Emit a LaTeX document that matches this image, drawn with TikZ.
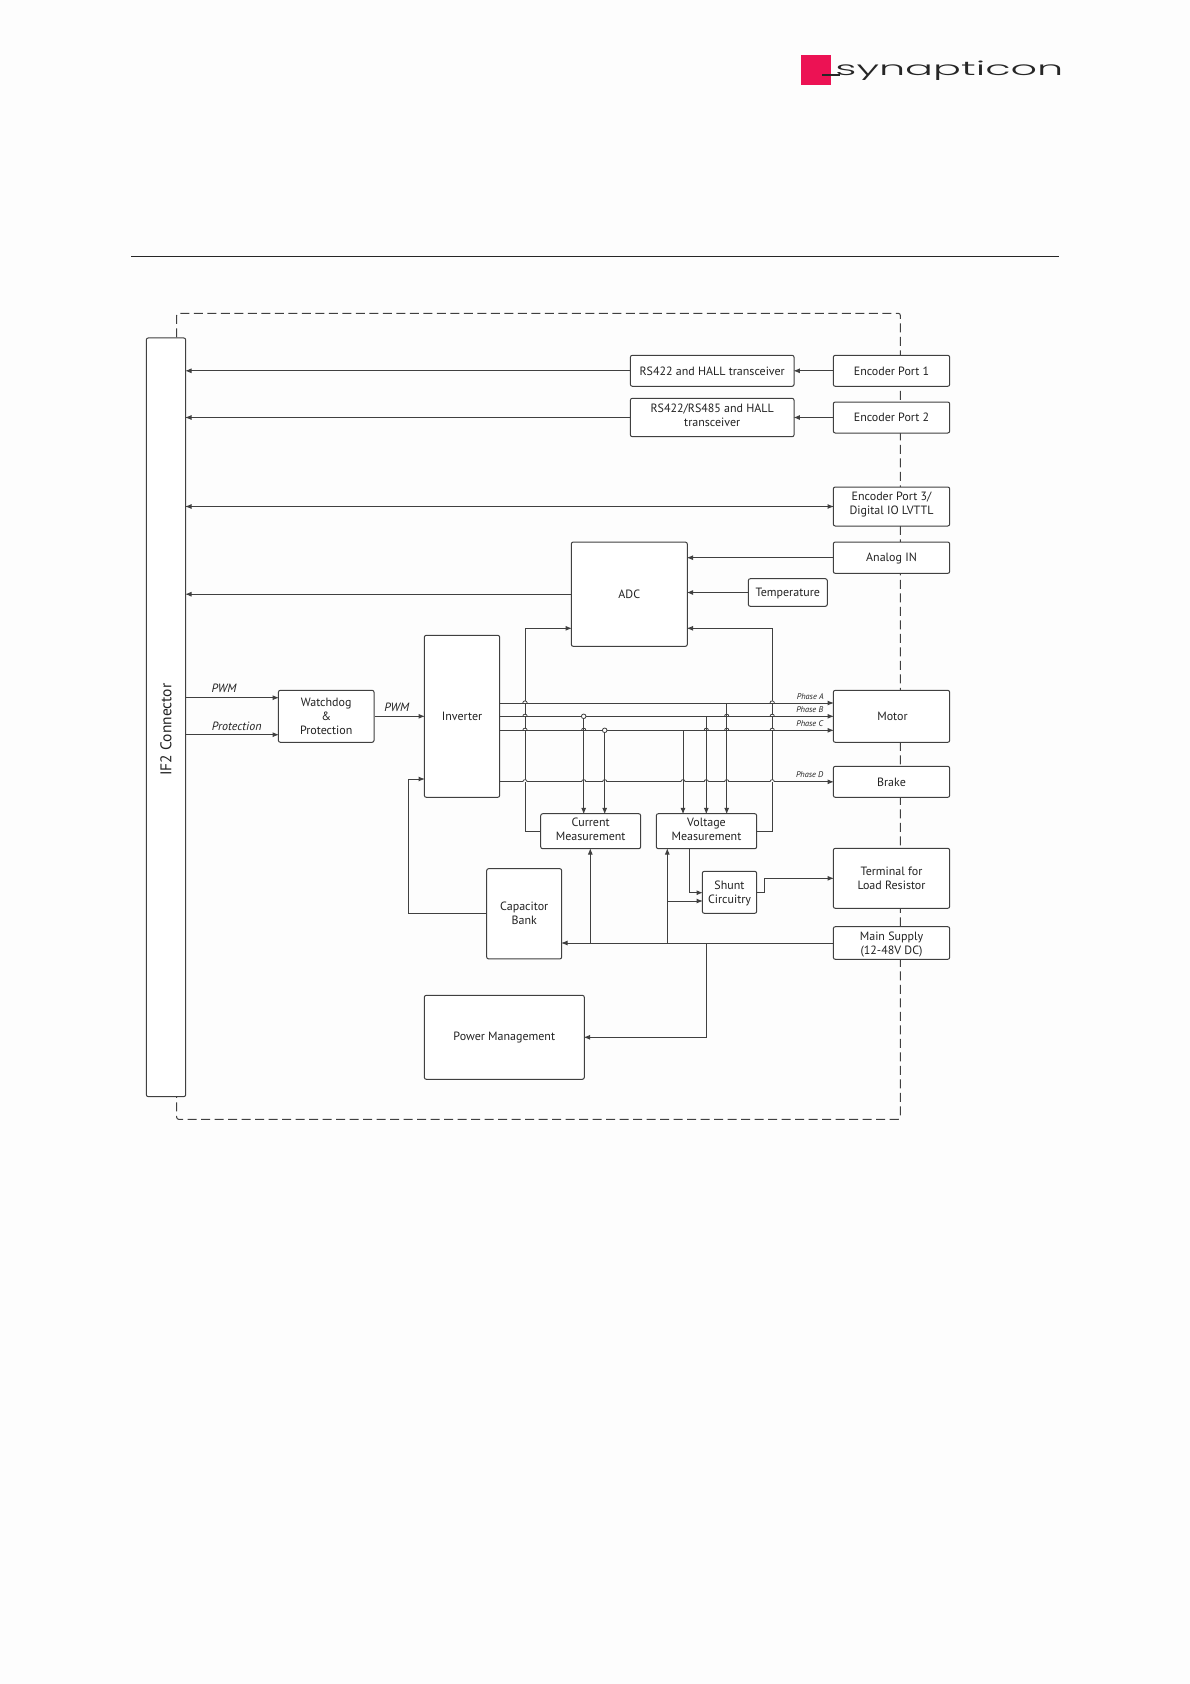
\documentclass[tikz,border=0pt]{standalone}
\usepackage{fontspec}
\setmainfont{PT Sans}
\newfontfamily\logofont{Poppins Light}
\usetikzlibrary{arrows.meta,backgrounds}
\definecolor{ln}{HTML}{404040}
\definecolor{txt}{HTML}{222222}
\definecolor{pink}{HTML}{EC1254}
\definecolor{paper}{HTML}{FDFDFD}
\tikzset{
  x=1pt,y=-1pt,
  blk/.style={draw=ln,line width=1pt,fill=white,rounded corners=2pt,inner sep=0pt,
    text=txt,align=center,font=\fontsize{12}{14}\selectfont},
  one/.style={text height=11pt,text depth=2.5pt},
  wire/.style={draw=ln,line width=1pt},
  arr/.style={wire,-{Latex[length=6.5pt,width=5pt]},shorten >=-1.2pt},
  lab/.style={inner sep=0pt,text=txt,font=\fontsize{12}{14}\selectfont\itshape},
  phase/.style={inner sep=0pt,text=txt,font=\fontsize{8.3}{10}\selectfont\itshape},
  jct/.style={circle,draw=ln,line width=.8pt,fill=white,inner sep=0pt,minimum size=4.6pt},
  frame/.style={draw=ln,line width=1pt,dash pattern=on 9pt off 4.5pt,rounded corners=2pt},
}
\newcommand{\bx}[6][]{\node[blk,#1,minimum width=#4pt,minimum height=#5pt] (#2) at (#3) {#6};}
\begin{document}
\begin{tikzpicture}
\useasboundingbox (0,0) rectangle (1190,1684);
\begin{pgfonlayer}{background}
\fill[paper] (0,0) rectangle (1190,1684);
\end{pgfonlayer}
% header
\fill[pink] (801,55) rectangle (831.3,84.7);
\coordinate (ruleL) at (131,256.7);
\coordinate (ruleR) at (1059,256.7);
\draw[line width=1pt,black!85] (ruleL) -- (ruleR);
\draw[line width=1.3pt,black!85] (822,75) -- (840,75);
\node[inner sep=0pt,anchor=base west,text=black!85,xscale=1.97,yscale=.92] (logo) at (835,75)
  {\logofont\fontsize{21}{24}\selectfont synapticon};
% boxes
\bx{if2}{166,717.3}{39.4}{758.7}{}
\node[inner sep=0pt,rotate=90,text=txt,font=\fontsize{15.5}{18}\selectfont] (if2t) at (166,729.5) {IF2 Connector};
\bx[one]{rs1}{712.2,370.8}{163.7}{31}{RS422 and HALL transceiver}
\bx[text depth=5pt]{rs2}{712.2,417.5}{163.7}{38.4}{RS422/RS485 and HALL\\transceiver}
\bx[one]{ep1}{891.5,370.8}{116.4}{31}{Encoder Port 1}
\bx[one]{ep2}{891.5,417.5}{116.4}{31}{Encoder Port 2}
\bx[text depth=7pt]{ep3}{891.5,506.5}{116.4}{39}{Encoder Port 3/\\Digital IO LVTTL}
\bx[one]{ain}{891.5,557.7}{116.4}{31.3}{Analog IN}
\bx[one]{tmp}{787.8,592.5}{79}{27.6}{Temperature}
\bx[one]{adc}{629.3,594.2}{116}{104.3}{ADC}
\bx{wd}{326.2,716.3}{95.7}{52}{Watchdog\\\&\\Protection}
\bx{inv}{462,716.3}{75.4}{162}{Inverter}
\bx[one]{mot}{891.5,716.3}{116.4}{52}{\hspace*{2pt}Motor}
\bx[one]{brk}{891.5,781.8}{116.4}{31}{Brake}
\bx[text depth=3pt]{cur}{590.7,831.2}{100}{35}{Current\\Measurement}
\bx[text depth=3pt]{vol}{706.5,831.2}{100.4}{35}{Voltage\\Measurement}
\bx[text depth=0pt]{shu}{729.5,892.3}{54.4}{42}{Shunt\\Circuitry}
\bx{trm}{891.5,878.3}{116.4}{60}{Terminal for\\Load Resistor}
\bx[text depth=0pt]{sup}{891.5,943}{116.4}{32.6}{Main Supply\\(12-48V DC)}
\bx[text depth=1.5pt]{cap}{524.2,913.8}{75}{90.3}{Capacitor\\Bank}
\bx{pm}{504.3,1037.3}{160}{84}{Power Management}
% frame
\begin{pgfonlayer}{background}
\draw[frame] (if2.north -| 176.7,0) -- (176.7,313.3) -- (900.3,313.3) -- (900.3,1119.3) -- (176.7,1119.3) -- (if2.south -| 176.7,0);
\end{pgfonlayer}
% top connectors
\draw[arr] (ep1.west) -- (rs1.east);
\draw[arr] (ep2.west) -- (rs2.east);
\draw[arr] (rs1.west) -- (rs1.west -| if2.east);
\draw[arr] (rs2.west) -- (rs2.west -| if2.east);
\draw[wire,{Latex[length=6.5pt,width=5pt]}-{Latex[length=6.5pt,width=5pt]},shorten >=-1.2pt,shorten <=-1.2pt] (ep3.west -| if2.east) -- (ep3.west);
\draw[arr] (adc.west) -- (adc.west -| if2.east);
\draw[arr] (ain.west) -- (ain.west -| adc.east);
\draw[arr] (tmp.west) -- (tmp.west -| adc.east);
% measurement back to ADC
\draw[arr] (cur.west) -- (525,831.2) -- (525,628.3) -- (adc.west |- 0,628.3);
\draw[arr] (vol.east) -- (772.2,831.2) -- (772.2,628.3) -- (adc.east |- 0,628.3);
% left side
\draw[arr] (if2.east |- 0,697.7) -- (wd.west |- 0,697.7);
\draw[arr] (if2.east |- 0,734.7) -- (wd.west |- 0,734.7);
\draw[arr] (wd.east) -- (inv.west);
\node[lab] (l1) at (224,688.3) {PWM};
\node[lab] (l2) at (236.7,726) {Protection};
\node[lab] (l3) at (396.7,707.3) {PWM};
\draw[arr] (cap.west) -- (408.5,913.8) -- (408.5,779) -- (inv.west |- 0,779);
% phases
\draw[arr] (inv.east |- 0,703) -- (mot.west |- 0,703);
\draw[arr] (inv.east |- 0,716.3) -- (mot.west |- 0,716.3);
\draw[arr] (inv.east |- 0,730.3) -- (mot.west |- 0,730.3);
\draw[arr] (inv.east |- 0,781.8) -- (brk.west);
\node[phase] (pa) at (810.3,696.7) {Phase A};
\node[phase] (pb) at (809.7,709.7) {Phase B};
\node[phase] (pc) at (809.7,723.7) {Phase C};
\node[phase] (pd) at (809.7,774.3) {Phase D};
% hops
\foreach \x/\y in {525/703,525/716.3,525/730.3,525/781.8,772.2/703,772.2/716.3,772.2/730.3,772.2/781.8,
  583.7/730.3,583.7/781.8,604.7/781.8,683/781.8,706.3/730.3,706.3/781.8,726.7/716.3,726.7/730.3,726.7/781.8}
  \filldraw[draw=ln,fill=white,line width=.8pt] ({\x-2.2},\y) .. controls ({\x-2.2},{\y-2.8}) and ({\x+2.2},{\y-2.8}) .. ({\x+2.2},\y);
% sensing
\node[jct] (j1) at (583.7,716.3) {};
\node[jct] (j2) at (604.7,730.3) {};
\draw[arr] (j1) -- (j1 |- cur.north);
\draw[arr] (j2) -- (j2 |- cur.north);
\coordinate (v1) at (683,730.3);
\coordinate (v2) at (706.3,716.3);
\coordinate (v3) at (726.7,703);
\draw[arr] (v1) -- (v1 |- vol.north);
\draw[arr] (v2) -- (v2 |- vol.north);
\draw[arr] (v3) -- (v3 |- vol.north);
% supply
\draw[arr] (sup.west) -- (cap.east |- sup.west);
\coordinate (s1) at (590.3,943);
\coordinate (s2) at (667.3,943);
\coordinate (s3) at (706.3,943);
\draw[arr] (s1) -- (s1 |- cur.south);
\draw[arr] (s2) -- (s2 |- vol.south);
\draw[arr] (s2 |- 0,901) -- (shu.west |- 0,901);
\draw[arr] (s3) -- (s3 |- pm.east) -- (pm.east);
\draw[arr] (689,848.7) -- (689,892.7) -- (shu.west |- 0,892.7);
\draw[arr] (shu.east) -- (764.3,892.3) -- (764.3,878.3) -- (trm.west);
\end{tikzpicture}
\end{document}
